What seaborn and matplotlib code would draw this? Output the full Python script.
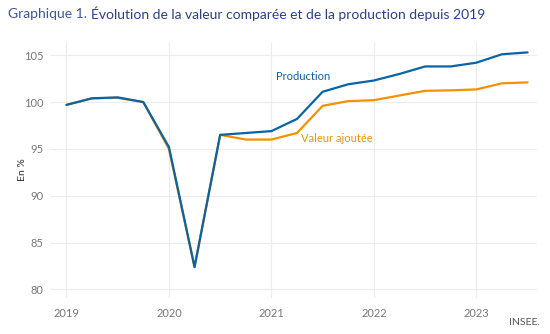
import matplotlib
matplotlib.use("Agg")
import matplotlib.pyplot as plt
import seaborn as sns
import pandas as pd

quarters = ["2019T1", "2019T2", "2019T3", "2019T4",
            "2020T1", "2020T2", "2020T3", "2020T4",
            "2021T1", "2021T2", "2021T3", "2021T4",
            "2022T1", "2022T2", "2022T3", "2022T4",
            "2023T1", "2023T2", "2023T3"]
production = [99.7, 100.4, 100.5, 100.0,
              95.2, 82.4, 96.5, 96.7,
              96.9, 98.2, 101.1, 101.9,
              102.3, 103.0, 103.8, 103.8,
              104.2, 105.1, 105.3]
valeur_ajoutee = [99.7, 100.4, 100.45, 100.0,
                  95.0, 82.4, 96.5, 96.0,
                  96.0, 96.7, 99.6, 100.1,
                  100.2, 100.7, 101.2, 101.25,
                  101.35, 102.0, 102.1]
year_ticks = [2019, 2020, 2021, 2022, 2023]
y_ticks = [80, 85, 90, 95, 100, 105]

def qpos(q):
    return int(q[:4]) + (int(q[-1]) - 1) / 4

x = [qpos(q) for q in quarters]
df = pd.DataFrame({
    "x": x * 2,
    "val": production + valeur_ajoutee,
    "serie": ["Production"] * len(x) + ["Valeur ajoutée"] * len(x),
})

BLUE = "#0a63a6"
ORANGE = "#f39200"

sns.set_theme(style="white")
plt.rcParams["font.family"] = ["Lato", "DejaVu Sans"]

fig = plt.figure(figsize=(5.5, 3.34), dpi=100)
ax = fig.add_axes([0.091, 0.108, 0.885, 0.766])

sns.lineplot(data=df, x="x", y="val", hue="serie",
             hue_order=["Valeur ajoutée", "Production"],
             palette={"Production": BLUE, "Valeur ajoutée": ORANGE},
             linewidth=1.6, legend=False, ax=ax)

ax.set_xlim(2018.84, 2023.59)
ax.set_ylim(79.1, 106.4)
ax.set_xticks(year_ticks)
ax.set_xticklabels([str(y) for y in year_ticks])
ax.set_yticks(y_ticks)
ax.grid(True, color="#ececec", linewidth=0.8)
ax.set_axisbelow(True)
for s in ax.spines.values():
    s.set_visible(False)
ax.tick_params(axis="both", length=0, labelsize=8, colors="#777777")
ax.tick_params(axis="x", pad=7)
ax.tick_params(axis="y", pad=5)
ax.set_xlabel("")
ax.set_ylabel("En %", fontsize=7.5, color="#333333")
ax.yaxis.set_label_coords(-0.048, 0.5)

ax.text(2021.31, 102.7, "Production", color=BLUE, fontsize=8,
        ha="center", va="center")
ax.text(2021.64, 96.1, "Valeur ajoutée", color=ORANGE, fontsize=8,
        ha="center", va="center")

fig.text(0.015, 0.958, "Graphique 1.", color="#3d56a0", fontsize=10,
         ha="left", va="center")
fig.text(0.166, 0.958, "Évolution de la valeur comparée et de la production depuis 2019",
         color="#2b3f8c", fontsize=10, ha="left", va="center")
fig.text(0.982, 0.022, "INSEE.", color="#555555", fontsize=7.5,
         ha="right", va="bottom")

fig.savefig("out.png", dpi=100)
